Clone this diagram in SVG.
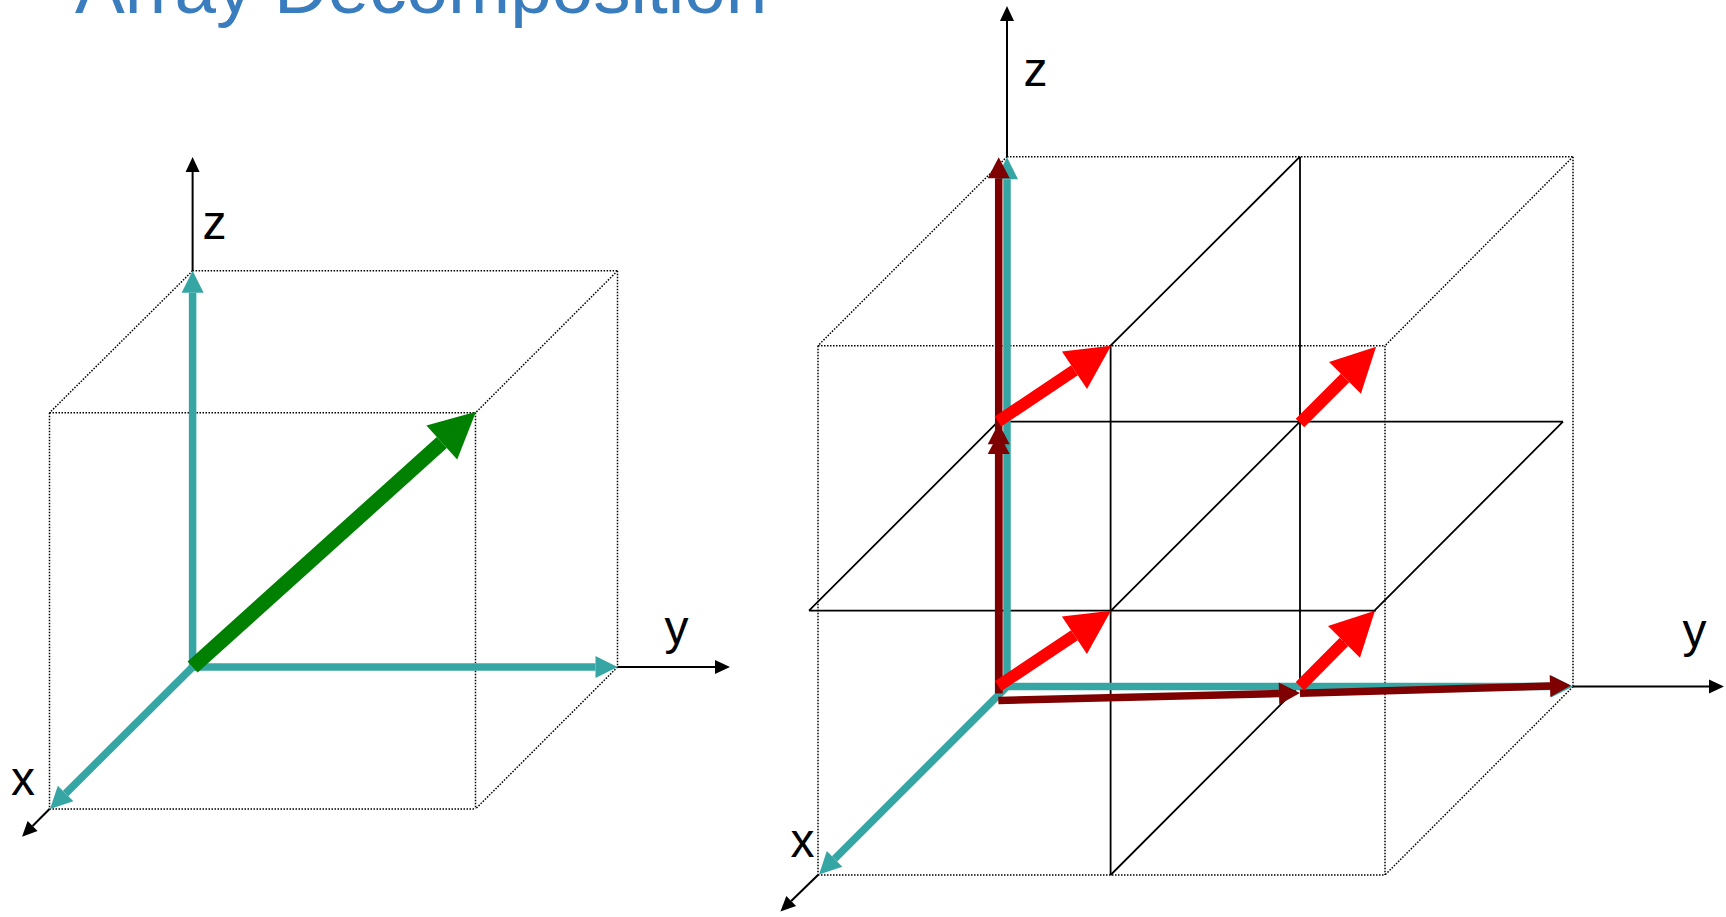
<svg xmlns="http://www.w3.org/2000/svg" width="1726" height="917" viewBox="0 0 1726 917">
<style>
  .dot{fill:none;stroke:#000;stroke-width:1.5;stroke-dasharray:1.5 1.5}
  .grid{fill:none;stroke:#000;stroke-width:1.8}
  .axis{fill:none;stroke:#000;stroke-width:2;marker-end:url(#hBlack)}
  .teal{fill:none;stroke:#36a6a5;stroke-width:7.5;marker-end:url(#hTeal)}
  .dred{fill:none;stroke:#7f0000;stroke-width:7.5;marker-end:url(#hDred)}
  .red{fill:none;stroke:#ff0000;stroke-width:12;marker-end:url(#hRed)}
  .green{fill:none;stroke:#008000;stroke-width:15;marker-end:url(#hGreen)}
  .lbl{font-family:"Liberation Sans",Arial,sans-serif;font-size:48px;fill:#000}
  .title{font-family:"Liberation Sans",Arial,sans-serif;font-size:74.6px;fill:#3a7dbf}
</style>
<defs>
  <marker id="hBlack" markerUnits="userSpaceOnUse" viewBox="0 -7 15 14" markerWidth="15" markerHeight="14" refX="0" refY="0" orient="auto" overflow="visible"><path d="M0,-7 L15,0 L0,7 z" fill="#000"/></marker>
  <marker id="hTeal" markerUnits="userSpaceOnUse" viewBox="0 -11 22 22" markerWidth="22" markerHeight="22" refX="0" refY="0" orient="auto" overflow="visible"><path d="M0,-11 L22,0 L0,11 z" fill="#36a6a5"/></marker>
  <marker id="hDred" markerUnits="userSpaceOnUse" viewBox="0 -11 21 22" markerWidth="21" markerHeight="22" refX="0" refY="0" orient="auto" overflow="visible"><path d="M0,-11 L21,0 L0,11 z" fill="#7f0000"/></marker>
  <marker id="hRed" markerUnits="userSpaceOnUse" viewBox="0 -22.5 44 45" markerWidth="44" markerHeight="45" refX="0" refY="0" orient="auto" overflow="visible"><path d="M0,-22.5 L44,0 L0,22.5 z" fill="#ff0000"/></marker>
  <marker id="hGreen" markerUnits="userSpaceOnUse" viewBox="0 -23 46 46" markerWidth="46" markerHeight="46" refX="0" refY="0" orient="auto" overflow="visible"><path d="M0,-23 L46,0 L0,23 z" fill="#008000"/></marker>
</defs>
<rect width="1726" height="917" fill="#fff"/>
<text id="title" class="title" x="75" y="12.5">Array Decomposition</text>

<g id="left-cube">
  <path class="dot" d="M192.6,270.8 H617.5 M192.6,270.8 L49.5,412.8 M617.5,270.8 L475.5,412.8 M49.5,412.8 H475.5 M49.5,412.8 V809 M475.5,412.8 V809 M49.5,809 H475.5 M617.5,270.8 V667 M617.5,667 L475.5,809"/>
</g>
<g id="right-cube">
  <path class="dot" d="M1007,156.7 H1573 M1007,156.7 L818,345.7 M1573,156.7 L1385,345.7 M818,345.7 H1385 M818,345.7 V875 M1385,345.7 V875 M818,875 H1385 M1573,156.7 V686.7 M1573,686.7 L1385,875"/>
  <path class="grid" d="M1300,156.7 L1110.6,345.7 V875 M1300,156.7 V686.5"/>
  <path class="grid" d="M998,421.7 H1563 M809,610.7 H1376 M998,421.7 L809,610.7 M1563,421.7 L1110.6,875 M1300,421.7 L1111,610.7"/>
</g>

<g id="connectors">
  <g id="left-axes">
    <line class="axis" x1="192.6" y1="271" x2="192.6" y2="172"/>
    <line class="axis" x1="617.5" y1="667" x2="715" y2="667"/>
    <line class="axis" x1="49.5" y1="809" x2="32.6" y2="826"/>
    <line class="teal" x1="192.6" y1="670.5" x2="192.6" y2="292.7"/>
    <line class="teal" x1="189" y1="667" x2="595.5" y2="667"/>
    <line class="teal" x1="192.6" y1="667" x2="65.6" y2="793.5"/>
    <line class="green" x1="192.6" y1="667" x2="441.8" y2="442.5"/>
  </g>
  <g id="right-axes">
    <line class="axis" x1="1007" y1="157" x2="1007" y2="21"/>
    <line class="axis" x1="1573" y1="686.5" x2="1709" y2="686.5"/>
    <line class="axis" x1="818" y1="875" x2="791.2" y2="901"/>
    <line class="teal" x1="1007" y1="690" x2="1007" y2="179.3"/>
    <line class="teal" x1="1003.5" y1="686.5" x2="1551" y2="686.5"/>
    <line class="teal" x1="1007" y1="686.5" x2="834.6" y2="858.9"/>
  </g>
  <g id="right-dred">
    <line class="dred" x1="998.7" y1="693.3" x2="998.7" y2="454"/>
    <line class="dred" x1="998.7" y1="693.3" x2="998.7" y2="444.3"/>
    <line class="dred" x1="998.7" y1="430" x2="998.7" y2="178.3"/>
    <line class="dred" x1="998.3" y1="700.5" x2="1279" y2="693.5"/>
    <line class="dred" x1="1300" y1="693.3" x2="1550" y2="686.1"/>
  </g>
  <g id="right-red">
    <line class="red" x1="998.3" y1="686" x2="1074.4" y2="635.2"/>
    <line class="red" x1="998" y1="421.5" x2="1074.5" y2="370.2"/>
    <line class="red" x1="1300" y1="423" x2="1345" y2="377.9"/>
    <line class="red" x1="1300" y1="686.3" x2="1344" y2="641.9"/>
  </g>
</g>

<g id="labels">
  <text class="lbl" x="202.5" y="238.8">z</text>
  <text class="lbl" x="664.5" y="644">y</text>
  <text class="lbl" x="11" y="795">x</text>
  <text class="lbl" x="1023.5" y="86">z</text>
  <text class="lbl" x="1682.5" y="646.5">y</text>
  <text class="lbl" x="790.5" y="856.7">x</text>
</g>
</svg>
